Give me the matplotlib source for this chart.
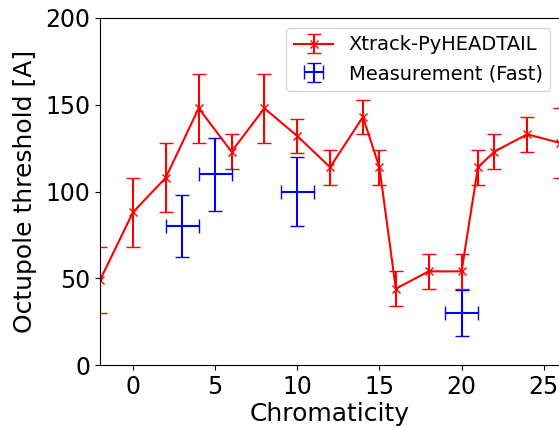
import matplotlib
matplotlib.use("Agg")
import matplotlib.pyplot as plt

sim_chroma = [-2, 0, 2, 4, 6, 8, 10, 12, 14, 15, 16, 18, 20, 21, 22, 24, 26]
sim_thresh = [49, 88, 108, 148, 123, 148, 132, 114, 143, 114, 44, 54, 54, 114, 123, 133, 128]
sim_err = [19, 20, 20, 20, 10, 20, 10, 10, 10, 10, 10, 10, 10, 10, 10, 10, 20]

meas_chroma = [3, 5, 10, 20]
meas_thresh = [80, 110, 100, 30]
meas_yerr = [18, 21, 20, 13]
meas_xerr = [1, 1, 1, 1]

fig = plt.figure(figsize=(5.59, 4.28), dpi=100)
ax = fig.add_axes([0.179, 0.147, 0.823, 0.811])

ax.errorbar(sim_chroma, sim_thresh, yerr=sim_err, color="red", marker="x",
            capsize=5, lw=1.5, label="Xtrack-PyHEADTAIL")
ax.errorbar(meas_chroma, meas_thresh, yerr=meas_yerr, xerr=meas_xerr, color="blue",
            ls="none", capsize=5, lw=1.5, label="Measurement (Fast)")

ax.set_xlim(-2, 26)
ax.set_ylim(0, 200)
ax.set_xticks([0, 5, 10, 15, 20, 25])
ax.set_yticks([0, 50, 100, 150, 200])
ax.tick_params(labelsize=17)
ax.set_xlabel("Chromaticity", fontsize=18, labelpad=2)
ax.set_ylabel("Octupole threshold [A]", fontsize=18, labelpad=6)
ax.legend(loc="upper right", fontsize=14)

fig.savefig("out.png", dpi=100)
